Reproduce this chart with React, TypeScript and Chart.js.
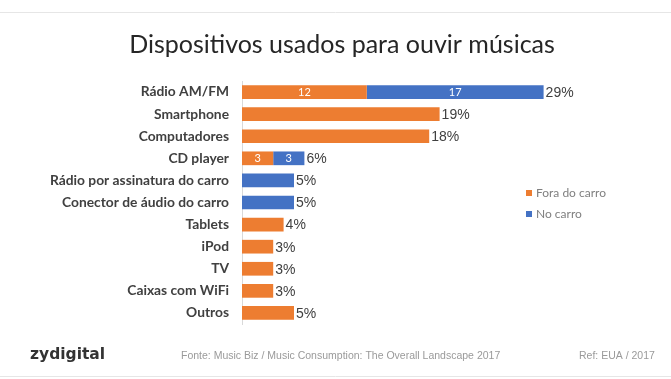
import React, { useEffect, useRef } from "react";
import { Chart, registerables } from "chart.js";

Chart.register(...registerables);

const categories = [
  "Rádio AM/FM",
  "Smartphone",
  "Computadores",
  "CD player",
  "Rádio por assinatura do carro",
  "Conector de áudio do carro",
  "Tablets",
  "iPod",
  "TV",
  "Caixas com WiFi",
  "Outros",
];
const foraDoCarro = [12, 19, 18, 3, 0, 0, 4, 3, 3, 3, 5];
const noCarro = [17, 0, 0, 3, 5, 5, 0, 0, 0, 0, 0];
const seriesNames = ["Fora do carro", "No carro"];
const title = "Dispositivos usados para ouvir músicas";
const brand = "zydigital";
const source = "Fonte: Music Biz / Music Consumption: The Overall Landscape 2017";
const refText = "Ref: EUA / 2017";

const ORANGE = "#ED7D31";
const BLUE = "#4472C4";

const decorPlugin = {
  id: "decor",
  afterDraw(chart: any) {
    const ctx = chart.ctx;
    const { width } = chart;
    ctx.save();
    // frame lines
    ctx.strokeStyle = "#e6e6e6";
    ctx.lineWidth = 1;
    ctx.beginPath();
    ctx.moveTo(0, 12.5);
    ctx.lineTo(width, 12.5);
    ctx.moveTo(0, 376.5);
    ctx.lineTo(width, 376.5);
    ctx.stroke();
    // title
    ctx.fillStyle = "#262626";
    ctx.font = "25px Lato";
    ctx.textAlign = "center";
    ctx.textBaseline = "middle";
    ctx.fillText(title, 342, 45);
    // footer
    ctx.textAlign = "left";
    ctx.fillStyle = "#333333";
    ctx.font = "bold 15.5px 'DejaVu Sans'";
    ctx.fillText(brand, 30, 355);
    ctx.fillStyle = "#9a9a9a";
    ctx.font = "10.5px 'Liberation Sans'";
    ctx.fillText(source, 181, 356);
    ctx.fillText(refText, 579, 356);

    // legend
    const colors = [ORANGE, BLUE];
    const ys = [193, 214];
    ctx.font = "12px Lato";
    for (let i = 0; i < 2; i++) {
      ctx.fillStyle = colors[i];
      ctx.fillRect(526, ys[i] - 3, 6, 6);
      ctx.fillStyle = "#7f7f7f";
      ctx.fillText(seriesNames[i], 536, ys[i]);
    }

    // value labels
    const m0 = chart.getDatasetMeta(0);
    const m1 = chart.getDatasetMeta(1);
    categories.forEach((_, i) => {
      const a = foraDoCarro[i];
      const b = noCarro[i];
      const b0 = m0.data[i];
      const b1 = m1.data[i];
      if (a > 0 && b > 0) {
        ctx.fillStyle = "#ffffff";
        ctx.font = "11px Lato";
        ctx.textAlign = "center";
        ctx.fillText(String(a), (b0.x + b0.base) / 2, b0.y + 0.5);
        ctx.fillText(String(b), (b1.x + b1.base) / 2, b1.y + 0.5);
      }
      const endX = Math.max(b0.x, b1.x);
      ctx.fillStyle = "#404040";
      ctx.font = "14px 'Liberation Sans'";
      ctx.textAlign = "left";
      ctx.fillText(a + b + "%", endX + 2, b0.y + 1);
    });
    ctx.restore();
  },
};

export default function App() {
  const ref = useRef<HTMLCanvasElement>(null);
  useEffect(() => {
    if (!ref.current) return;
    const chart = new Chart(ref.current, {
      type: "bar",
      data: {
        labels: categories,
        datasets: [
          {
            label: seriesNames[0],
            data: foraDoCarro,
            backgroundColor: ORANGE,
            borderWidth: 0,
            barPercentage: 0.62,
            categoryPercentage: 1,
          },
          {
            label: seriesNames[1],
            data: noCarro,
            backgroundColor: BLUE,
            borderWidth: 0,
            barPercentage: 0.62,
            categoryPercentage: 1,
          },
        ],
      },
      options: {
        indexAxis: "y",
        animation: false,
        responsive: false,
        maintainAspectRatio: false,
        layout: { padding: { top: 81, bottom: 55, left: 0, right: 13 } },
        plugins: {
          legend: { display: false },
          tooltip: { enabled: false },
          title: { display: false },
        },
        scales: {
          x: {
            stacked: true,
            display: false,
            min: 0,
            max: 40,
          },
          y: {
            stacked: true,
            grid: { display: false },
            border: { display: true, color: "#d9d9d9", width: 1 },
            ticks: {
              color: "#404040",
              font: { family: "Lato", size: 13.8, weight: "bold" },
              padding: 5,
            },
            afterFit(scale: any) {
              scale.width = 242;
            },
          },
        },
      },
      plugins: [decorPlugin],
    });
    return () => chart.destroy();
  }, []);
  return (
    <div style={{ position: "absolute", left: 0, top: 0, width: 671, height: 379, background: "#fff" }}>
      <canvas ref={ref} width={671} height={379} style={{ width: 671, height: 379 }} />
    </div>
  );
}
